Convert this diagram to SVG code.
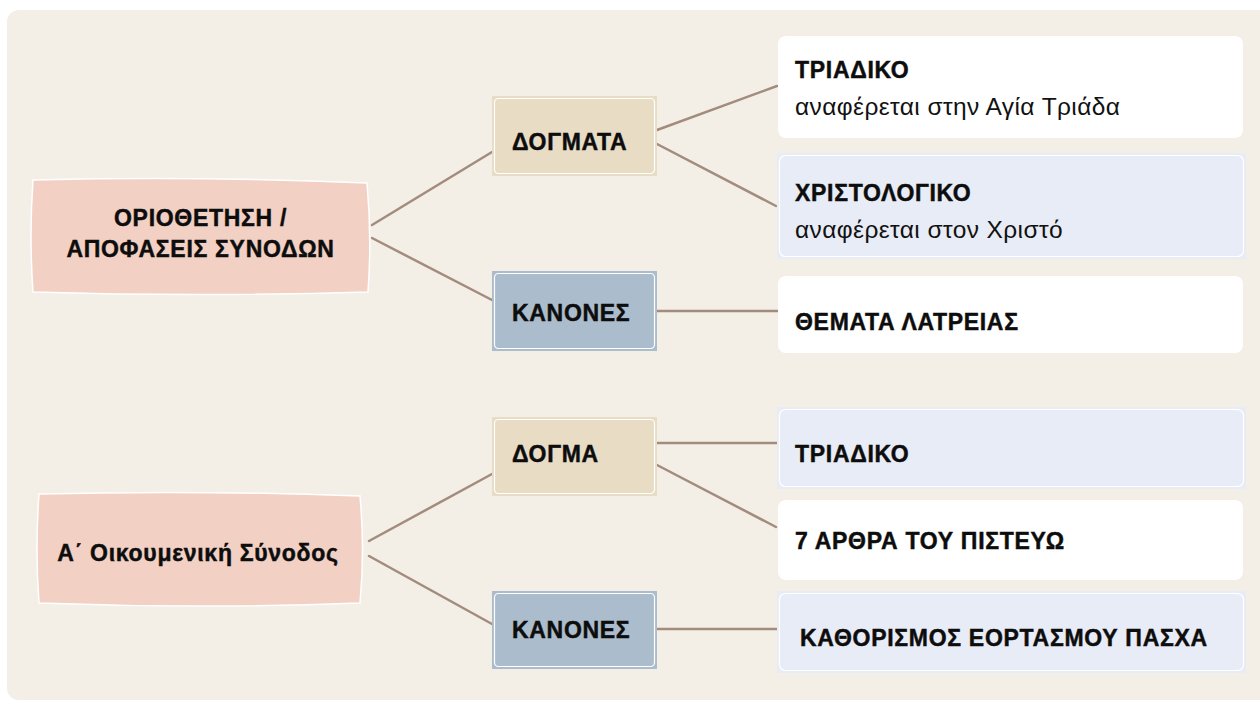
<svg xmlns="http://www.w3.org/2000/svg" width="1260" height="701" viewBox="0 0 1260 701">
  <style>
    .bold { font-family: "Liberation Sans", "DejaVu Sans", Arial, sans-serif; font-weight: bold; font-size: 23px; letter-spacing: 0.7px; fill: #0d0d0d; stroke: #0d0d0d; stroke-width: 0.45px; }
    .reg { font-family: "Liberation Sans", "DejaVu Sans", Arial, sans-serif; font-size: 24.5px; letter-spacing: 0.4px; fill: #111111; }
    .root { fill: #f2d0c3; stroke: #ffffff; stroke-width: 1.5; }
    .dogma { fill: #e8dcc5; }
    .kanon { fill: #abbccc; }
    .inner { fill: none; stroke: #ffffff; stroke-width: 1.2; }
    .white { fill: #ffffff; }
    .blue { fill: #e8ecf6; }
    .conn { stroke: #a38b7d; stroke-width: 2.5; fill: none; stroke-linecap: round; }
  </style>
  <rect x="0" y="0" width="1260" height="701" fill="#ffffff"/>
  <rect x="7" y="10" width="1265" height="690" rx="12" fill="#f3efe7"/>

  <g id="connectors">
    <line class="conn" x1="372" y1="225" x2="492" y2="152"/>
    <line class="conn" x1="372" y1="238" x2="492" y2="300"/>
    <line class="conn" x1="657" y1="130" x2="777" y2="86"/>
    <line class="conn" x1="657" y1="144" x2="776" y2="206"/>
    <line class="conn" x1="657" y1="311" x2="778" y2="311"/>
    <line class="conn" x1="369" y1="541" x2="492" y2="474"/>
    <line class="conn" x1="369" y1="556" x2="492" y2="624"/>
    <line class="conn" x1="657" y1="443" x2="778" y2="443"/>
    <line class="conn" x1="657" y1="465" x2="776" y2="527"/>
    <line class="conn" x1="657" y1="629" x2="778" y2="629"/>
  </g>

  <g id="root1">
    <path class="root" d="M33,180 Q200,176 367,183 Q372,237 368,292 Q200,297 33,292 Q29,236 33,180 Z"/>
    <text class="bold" x="200.5" y="226" text-anchor="middle">ΟΡΙΟΘΕΤΗΣΗ /</text>
    <text class="bold" x="200.5" y="257" text-anchor="middle">ΑΠΟΦΑΣΕΙΣ ΣΥΝΟΔΩΝ</text>
  </g>

  <g id="root2">
    <path class="root" d="M39,494 Q200,490 360,496 Q365,550 360,603 Q200,609 39,603 Q35,548 39,494 Z"/>
    <text class="bold" x="198" y="561" text-anchor="middle">Α΄ Οικουμενική Σύνοδος</text>
  </g>

  <g id="dogmata">
    <rect class="dogma" x="492" y="96" width="165" height="80"/>
    <rect class="inner" x="494.5" y="98.5" width="160" height="75" rx="4"/>
    <text class="bold" x="512" y="150">ΔΟΓΜΑΤΑ</text>
  </g>

  <g id="kanones1">
    <rect class="kanon" x="492" y="271" width="165" height="80"/>
    <rect class="inner" x="494.5" y="273.5" width="160" height="75" rx="4"/>
    <text class="bold" x="512" y="321">ΚΑΝΟΝΕΣ</text>
  </g>

  <g id="dogma">
    <rect class="dogma" x="492" y="417" width="165" height="79"/>
    <rect class="inner" x="494.5" y="419.5" width="160" height="74" rx="4"/>
    <text class="bold" x="512" y="462">ΔΟΓΜΑ</text>
  </g>

  <g id="kanones2">
    <rect class="kanon" x="492" y="591" width="165" height="78"/>
    <rect class="inner" x="494.5" y="593.5" width="160" height="73" rx="4"/>
    <text class="bold" x="512" y="638">ΚΑΝΟΝΕΣ</text>
  </g>

  <g id="triadiko1">
    <rect class="white" x="778" y="36" width="465" height="102" rx="8"/>
    <text class="bold" x="795" y="78">ΤΡΙΑΔΙΚΟ</text>
    <text class="reg" x="795" y="115">αναφέρεται στην Αγία Τριάδα</text>
  </g>

  <g id="christologiko">
    <rect class="blue" x="777" y="153" width="469" height="106"/>
    <rect class="inner" x="779.5" y="155.5" width="464" height="101" rx="6"/>
    <text class="bold" x="795" y="201">ΧΡΙΣΤΟΛΟΓΙΚΟ</text>
    <text class="reg" x="795" y="238">αναφέρεται στον Χριστό</text>
  </g>

  <g id="latreia">
    <rect class="white" x="778" y="276" width="465" height="77" rx="8"/>
    <text class="bold" x="795" y="330">ΘΕΜΑΤΑ ΛΑΤΡΕΙΑΣ</text>
  </g>

  <g id="triadiko2">
    <rect class="blue" x="777" y="407" width="469" height="82"/>
    <rect class="inner" x="779.5" y="409.5" width="464" height="77" rx="6"/>
    <text class="bold" x="795" y="462">ΤΡΙΑΔΙΚΟ</text>
  </g>

  <g id="arthra">
    <rect class="white" x="778" y="500" width="465" height="80" rx="8"/>
    <text class="bold" x="795" y="549">7 ΑΡΘΡΑ ΤΟΥ ΠΙΣΤΕΥΩ</text>
  </g>

  <g id="pascha">
    <rect class="blue" x="777" y="591" width="469" height="82"/>
    <rect class="inner" x="779.5" y="593.5" width="464" height="77" rx="6"/>
    <text class="bold" x="800" y="646">ΚΑΘΟΡΙΣΜΟΣ ΕΟΡΤΑΣΜΟΥ ΠΑΣΧΑ</text>
  </g>
</svg>
